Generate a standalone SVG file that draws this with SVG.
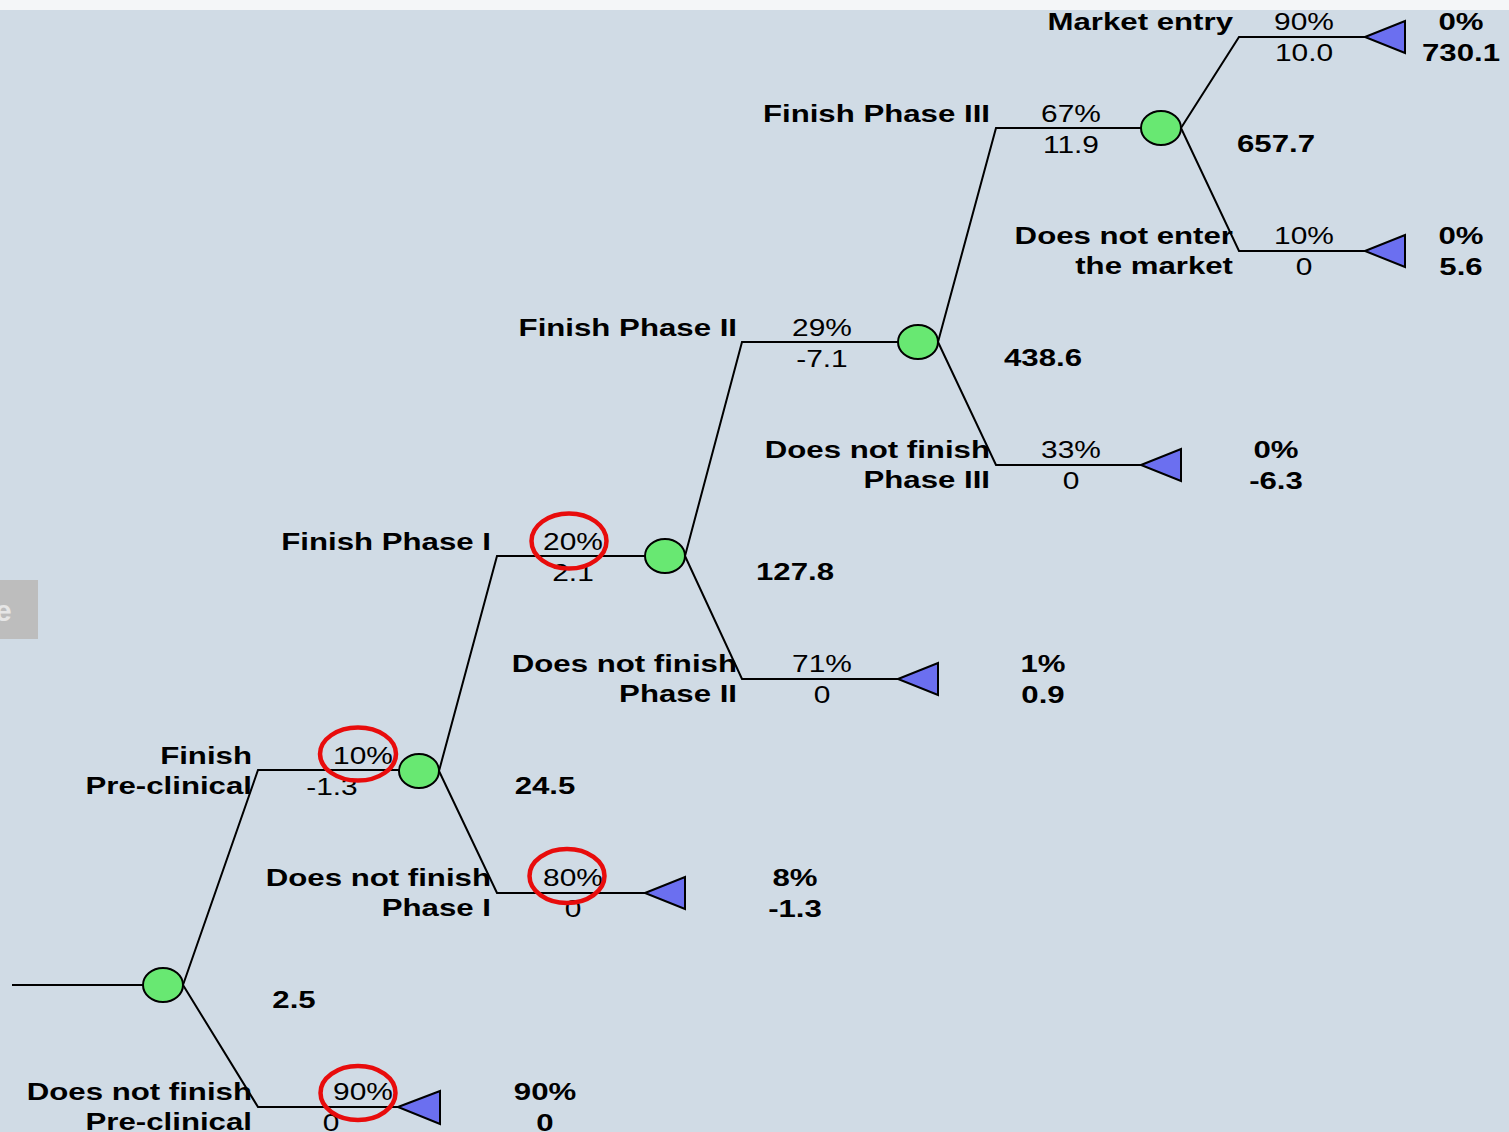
<svg xmlns="http://www.w3.org/2000/svg" width="1509" height="1132" viewBox="0 0 1509 1132">
<style>
.bg{fill:#d0dbe5}
.cn{fill:#68e872;stroke:#000;stroke-width:2}
.tn{fill:#6b6ff0;stroke:#000;stroke-width:2;stroke-linejoin:miter}
.ln{fill:none;stroke:#000;stroke-width:2}
.hl{fill:none;stroke:#e80c0c;stroke-width:4.5}
text{font-family:"Liberation Sans",Arial,sans-serif;fill:#000}
.b{font-size:24px;font-weight:bold}
.n{font-size:23px}
.e{text-anchor:end}
.m{text-anchor:middle}
</style>
<rect class="bg" x="0" y="0" width="1509" height="1132"/>
<rect x="0" y="0" width="1509" height="10" fill="#f4f6f8"/>
<rect x="0" y="580" width="38" height="59" fill="#bdbdbd"/>
<text x="-5" y="621" font-size="30" font-weight="bold" fill="#e6e6e6" style="fill:#e6e6e6">e</text>

<g id="connectors">
<path class="ln" d="M12 985 H143"/>
<path class="ln" d="M183 985 L258 770 H399"/>
<path class="ln" d="M183 985 L258 1107 H398"/>
<path class="ln" d="M439 771 L497 556 H645"/>
<path class="ln" d="M439 771 L497 893 H645"/>
<path class="ln" d="M685 556 L742 342 H898"/>
<path class="ln" d="M685 556 L742 679 H898"/>
<path class="ln" d="M938 342 L996 128 H1141"/>
<path class="ln" d="M938 342 L996 465 H1141"/>
<path class="ln" d="M1181 128 L1239 37 H1365"/>
<path class="ln" d="M1181 128 L1239 251 H1365"/>
</g>

<g id="branch-labels">
<text class="b e" transform="translate(1233 30) scale(1.3 1)">Market entry</text>
<text class="n m" transform="translate(1304 30) scale(1.3 1)">90%</text>
<text class="n m" transform="translate(1304 61) scale(1.3 1)">10.0</text>

<text class="b e" transform="translate(1233 244) scale(1.3 1)">Does not enter</text>
<text class="b e" transform="translate(1233 274) scale(1.3 1)">the market</text>
<text class="n m" transform="translate(1304 244) scale(1.3 1)">10%</text>
<text class="n m" transform="translate(1304 275) scale(1.3 1)">0</text>

<text class="b e" transform="translate(990 122) scale(1.3 1)">Finish Phase III</text>
<text class="n m" transform="translate(1071 122) scale(1.3 1)">67%</text>
<text class="n m" transform="translate(1071 153) scale(1.3 1)">11.9</text>

<text class="b e" transform="translate(990 458) scale(1.3 1)">Does not finish</text>
<text class="b e" transform="translate(990 488) scale(1.3 1)">Phase III</text>
<text class="n m" transform="translate(1071 458) scale(1.3 1)">33%</text>
<text class="n m" transform="translate(1071 489) scale(1.3 1)">0</text>

<text class="b e" transform="translate(737 336) scale(1.3 1)">Finish Phase II</text>
<text class="n m" transform="translate(822 336) scale(1.3 1)">29%</text>
<text class="n m" transform="translate(822 367) scale(1.3 1)">-7.1</text>

<text class="b e" transform="translate(737 672) scale(1.3 1)">Does not finish</text>
<text class="b e" transform="translate(737 702) scale(1.3 1)">Phase II</text>
<text class="n m" transform="translate(822 672) scale(1.3 1)">71%</text>
<text class="n m" transform="translate(822 703) scale(1.3 1)">0</text>

<text class="b e" transform="translate(491 550) scale(1.3 1)">Finish Phase I</text>
<text class="n m" transform="translate(573 550) scale(1.3 1)">20%</text>
<text class="n m" transform="translate(573 581) scale(1.3 1)">2.1</text>

<text class="b e" transform="translate(491 886) scale(1.3 1)">Does not finish</text>
<text class="b e" transform="translate(491 916) scale(1.3 1)">Phase I</text>
<text class="n m" transform="translate(573 886) scale(1.3 1)">80%</text>
<text class="n m" transform="translate(573 917) scale(1.3 1)">0</text>

<text class="b e" transform="translate(252 764) scale(1.3 1)">Finish</text>
<text class="b e" transform="translate(252 794) scale(1.3 1)">Pre-clinical</text>
<text class="n m" transform="translate(363 764) scale(1.3 1)">10%</text>
<text class="n m" transform="translate(332 795) scale(1.3 1)">-1.3</text>

<text class="b e" transform="translate(252 1100) scale(1.3 1)">Does not finish</text>
<text class="b e" transform="translate(252 1130) scale(1.3 1)">Pre-clinical</text>
<text class="n m" transform="translate(363 1100) scale(1.3 1)">90%</text>
<text class="n m" transform="translate(331 1131) scale(1.3 1)">0</text>
</g>

<g id="chance-root">
<ellipse class="cn" cx="163" cy="985" rx="20" ry="17"/>
<text class="b m" transform="translate(294 1008) scale(1.3 1)">2.5</text>
</g>
<g id="chance-preclinical">
<ellipse class="cn" cx="419" cy="771" rx="20" ry="17"/>
<text class="b m" transform="translate(545 794) scale(1.3 1)">24.5</text>
</g>
<g id="chance-phase1">
<ellipse class="cn" cx="665" cy="556" rx="20" ry="17"/>
<text class="b m" transform="translate(795 580) scale(1.3 1)">127.8</text>
</g>
<g id="chance-phase2">
<ellipse class="cn" cx="918" cy="342" rx="20" ry="17"/>
<text class="b m" transform="translate(1043 366) scale(1.3 1)">438.6</text>
</g>
<g id="chance-phase3">
<ellipse class="cn" cx="1161" cy="128" rx="20" ry="17"/>
<text class="b m" transform="translate(1276 152) scale(1.3 1)">657.7</text>
</g>

<g id="end-market-entry">
<polygon class="tn" points="1365,37 1405,21 1405,53"/>
<text class="b m" transform="translate(1461 30) scale(1.3 1)">0%</text>
<text class="b m" transform="translate(1461 61) scale(1.3 1)">730.1</text>
</g>
<g id="end-no-market">
<polygon class="tn" points="1365,251 1405,235 1405,267"/>
<text class="b m" transform="translate(1461 244) scale(1.3 1)">0%</text>
<text class="b m" transform="translate(1461 275) scale(1.3 1)">5.6</text>
</g>
<g id="end-no-phase3">
<polygon class="tn" points="1141,465 1181,449 1181,481"/>
<text class="b m" transform="translate(1276 458) scale(1.3 1)">0%</text>
<text class="b m" transform="translate(1276 489) scale(1.3 1)">-6.3</text>
</g>
<g id="end-no-phase2">
<polygon class="tn" points="898,679 938,663 938,695"/>
<text class="b m" transform="translate(1043 672) scale(1.3 1)">1%</text>
<text class="b m" transform="translate(1043 703) scale(1.3 1)">0.9</text>
</g>
<g id="end-no-phase1">
<polygon class="tn" points="645,893 685,877 685,909"/>
<text class="b m" transform="translate(795 886) scale(1.3 1)">8%</text>
<text class="b m" transform="translate(795 917) scale(1.3 1)">-1.3</text>
</g>
<g id="end-no-preclinical">
<polygon class="tn" points="398,1107 440,1091 440,1124"/>
<text class="b m" transform="translate(545 1100) scale(1.3 1)">90%</text>
<text class="b m" transform="translate(545 1131) scale(1.3 1)">0</text>
</g>

<g id="highlights">
<ellipse class="hl" cx="569" cy="541" rx="37.5" ry="27.5"/>
<ellipse class="hl" cx="567" cy="876" rx="37.5" ry="27"/>
<ellipse class="hl" cx="358" cy="754" rx="38" ry="26.5"/>
<ellipse class="hl" cx="358" cy="1093" rx="37.5" ry="27"/>
</g>
</svg>
